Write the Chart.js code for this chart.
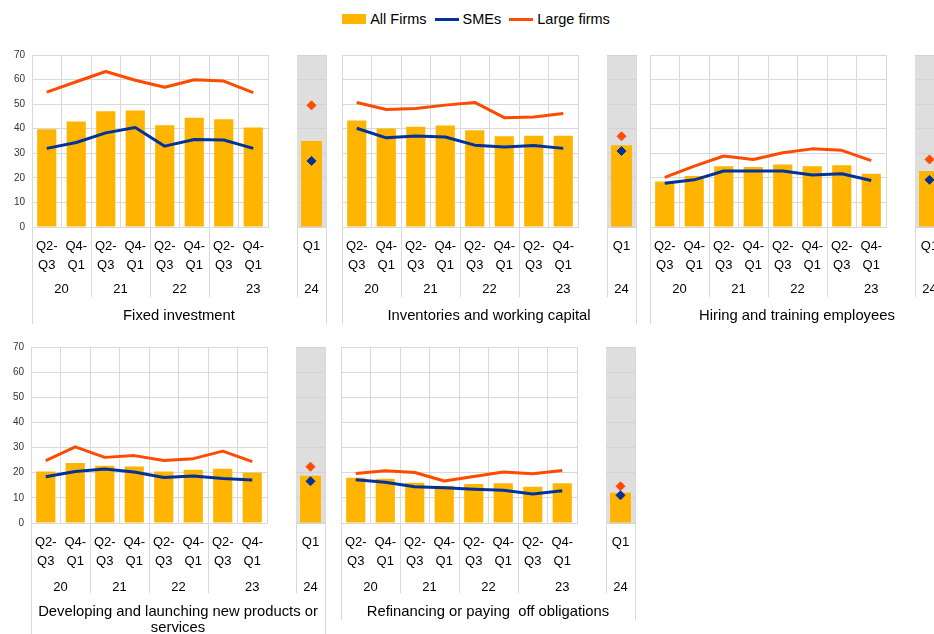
<!DOCTYPE html>
<html>
<head>
<meta charset="utf-8">
<script src="https://cdn.jsdelivr.net/npm/chart.js@4.4.1/dist/chart.umd.min.js"></script>
<style>
  body { margin: 0; width: 934px; height: 634px; overflow: hidden; position: relative; background: #fff;
         font-family: "Liberation Sans", Arial, sans-serif; }
  canvas { position: absolute; }
  .title { position: absolute; font-size: 14.8px; line-height: 16.4px; text-align: center; color: #000; white-space: pre-wrap; }
  #legend { position: absolute; top: 11px; left: 0; width: 960px; display: flex; justify-content: center;
            align-items: center; font-size: 14.5px; color: #000; }
  #legend .box { width: 24px; height: 10px; margin-right: 4px; }
  #legend .ln { width: 24px; height: 3px; margin-right: 4px; }
  #legend .lbl { margin-right: 8px; }
</style>
</head>
<body>
<div id="legend">
  <span class="box" style="background:#ffb400"></span><span class="lbl">All Firms</span>
  <span class="ln" style="background:#003299"></span><span class="lbl">SMEs</span>
  <span class="ln" style="background:#ff4b00"></span><span class="lbl">Large firms</span>
</div>
<script>
// categories
const periods = [['Q2-', 'Q3'], ['Q4-', 'Q1'], ['Q2-', 'Q3'], ['Q4-', 'Q1'],
                 ['Q2-', 'Q3'], ['Q4-', 'Q1'], ['Q2-', 'Q3'], ['Q4-', 'Q1']];
const years = ['20', '21', '22', '23'];
const yearSpans = [[0, 1], [2, 3], [4, 5], [6, 8]];   // last group also covers the gap
const latestPeriod = ['Q1'];
const latestYear = '24';
const yMin = 0, yMax = 70, yStep = 10;

const titles = ['Fixed investment', 'Inventories and working capital', 'Hiring and training employees',
                'Developing and launching new products or services', 'Refinancing or paying  off obligations'];

// values, % of firms ; latest = [all firms, SMEs, large firms]
const fixedAll   = [39.8, 42.9, 47.1, 47.4, 41.4, 44.5, 43.9, 40.5];
const fixedSme   = [32.0, 34.4, 38.3, 40.5, 32.9, 35.6, 35.4, 32.0];
const fixedLarge = [54.9, 59.1, 63.3, 59.7, 56.9, 59.9, 59.4, 54.7];
const fixedLatest = [35.0, 26.9, 49.5];

const invAll   = [43.3, 40.1, 40.8, 41.3, 39.4, 36.9, 37.1, 37.1];
const invSme   = [40.2, 36.3, 37.0, 36.6, 33.3, 32.6, 33.2, 32.0];
const invLarge = [50.7, 47.8, 48.2, 49.6, 50.7, 44.5, 44.8, 46.2];
const invLatest = [33.3, 30.9, 36.9];

const hireAll   = [18.5, 20.8, 24.7, 24.4, 25.4, 24.7, 25.1, 21.7];
const hireSme   = [17.8, 19.2, 22.8, 22.8, 22.8, 21.2, 21.7, 18.9];
const hireLarge = [20.2, 24.8, 28.9, 27.5, 30.2, 31.8, 31.2, 27.0];
const hireLatest = [22.8, 19.2, 27.5];

const prodAll   = [20.5, 23.9, 22.8, 22.5, 20.5, 21.2, 21.6, 20.0];
const prodSme   = [18.4, 20.5, 21.5, 20.3, 18.1, 18.7, 17.7, 17.1];
const prodLarge = [24.8, 30.3, 26.1, 26.8, 24.9, 25.6, 28.6, 24.4];
const prodLatest = [18.8, 16.6, 22.4];

const refiAll   = [18.0, 17.6, 16.0, 14.8, 15.5, 15.8, 14.4, 15.8];
const refiSme   = [17.2, 16.2, 14.4, 14.0, 13.4, 13.0, 11.5, 12.8];
const refiLarge = [19.7, 20.8, 20.1, 16.7, 18.5, 20.3, 19.6, 20.9];
const refiLatest = [12.1, 11.0, 14.6];

const FONT = '"Liberation Sans", Arial, sans-serif';
const GRID = '#d9d9d9';
const SHADE = '#dedede';
const BAR = '#ffb400', SME = '#003299', LARGE = '#ff4b00';

Chart.defaults.font.family = FONT;

// panel placement on the page
const boxes = [
  { left: 32,  top: 55,  h: 172, yLabels: true,  depth: 97 },
  { left: 342, top: 55,  h: 172, yLabels: false, depth: 97 },
  { left: 650, top: 55,  h: 172, yLabels: false, depth: 97 },
  { left: 31,  top: 347, h: 176, yLabels: true,  depth: 111 },
  { left: 341, top: 347, h: 176, yLabels: false, depth: 97 }
];
const series = [
  [fixedAll, fixedSme, fixedLarge, fixedLatest],
  [invAll, invSme, invLarge, invLatest],
  [hireAll, hireSme, hireLarge, hireLatest],
  [prodAll, prodSme, prodLarge, prodLatest],
  [refiAll, refiSme, refiLarge, refiLatest]
];

// extra axis furniture: labels and separator lines below the plot
const decor = {
  id: 'decor',
  afterDraw(chart, args, o) {
    const { ctx, chartArea: a, scales: { x } } = chart;
    ctx.save();
    ctx.strokeStyle = GRID;
    ctx.lineWidth = 1;
    o.lines.forEach(([v, fromTop, depth]) => {
      const px = Math.round(x.getPixelForValue(v) - 0.5) + 0.5;
      ctx.beginPath();
      ctx.moveTo(px, fromTop ? a.top : a.bottom);
      ctx.lineTo(px, a.bottom + depth);
      ctx.stroke();
    });
    ctx.fillStyle = '#000';
    ctx.font = '13px ' + FONT;
    ctx.textAlign = 'center';
    ctx.textBaseline = 'middle';
    o.labels.forEach(([text, v, off]) => ctx.fillText(text, x.getPixelForValue(v), a.bottom + off));
    ctx.restore();
  }
};

const shade = {
  id: 'shade',
  beforeDraw(chart) {
    const { ctx, chartArea: a } = chart;
    ctx.save();
    ctx.fillStyle = SHADE;
    ctx.fillRect(a.left, a.top, a.right - a.left, a.bottom - a.top);
    ctx.restore();
  }
};

function addCanvas(x, y, w, h) {
  const c = document.createElement('canvas');
  c.width = w; c.height = h;
  c.style.left = x + 'px'; c.style.top = y + 'px';
  c.style.width = w + 'px'; c.style.height = h + 'px';
  document.body.appendChild(c);
  return c;
}

const xTicks = { font: { size: 13, lineHeight: 1.45 }, color: '#000', padding: 10, maxRotation: 0, autoSkip: false };
const PAD_BOTTOM = 62, AXIS_H = 50;

function mainChart(d, box) {
  const wy = box.yLabels ? 31 : 4;
  const cv = addCanvas(box.left - wy, box.top - 8, wy + 238, 8 + box.h + AXIS_H + PAD_BOTTOM);
  const yearOffset = box.h > 173 ? 64 : 62;
  const lines = [[-0.5, true, box.depth]].concat(yearSpans.slice(1).map(s => [s[0] - 0.5, false, 70]));
  const labels = years.map((y, i) => [y, (yearSpans[i][0] + yearSpans[i][1]) / 2, yearOffset]);
  new Chart(cv, {
    type: 'bar',
    data: {
      labels: periods,
      datasets: [
        { type: 'line', label: 'SMEs', data: d[1], borderColor: SME, borderWidth: 3, pointRadius: 0,
          borderJoinStyle: 'round', order: 1 },
        { type: 'line', label: 'Large firms', data: d[2], borderColor: LARGE, borderWidth: 3, pointRadius: 0,
          borderJoinStyle: 'round', order: 1 },
        { label: 'All Firms', data: d[0], backgroundColor: BAR, barPercentage: 0.65, categoryPercentage: 1, order: 2 }
      ]
    },
    options: {
      responsive: false,
      animation: false,
      layout: { autoPadding: false, padding: { top: 8, right: 2, bottom: PAD_BOTTOM, left: 0 } },
      plugins: {
        legend: { display: false },
        tooltip: { enabled: false },
        decor: { lines, labels }
      },
      scales: {
        x: {
          grid: { color: GRID, drawTicks: false, offset: true },
          border: { color: GRID },
          ticks: xTicks,
          afterFit(s) { s.height = AXIS_H; s.paddingLeft = 0; s.paddingRight = 0; }
        },
        y: {
          min: yMin, max: yMax,
          grid: { color: GRID, drawTicks: false },
          border: { color: GRID },
          ticks: { stepSize: yStep, display: box.yLabels, font: { size: 10 }, color: '#333', padding: 7 },
          afterFit(s) { s.width = wy; s.paddingTop = 0; s.paddingBottom = 0; }
        }
      }
    },
    plugins: [decor]
  });
}

function latestChart(d, box) {
  const cv = addCanvas(box.left + 265, box.top - 8, 31, 8 + box.h + AXIS_H + PAD_BOTTOM);
  const yearOffset = box.h > 173 ? 64 : 62;
  new Chart(cv, {
    type: 'bar',
    data: {
      labels: latestPeriod,
      datasets: [
        { type: 'line', label: 'SMEs', data: [d[3][1]], showLine: false, pointStyle: 'rectRot', pointRadius: 4.5,
          pointBackgroundColor: SME, pointBorderColor: SME, order: 1 },
        { type: 'line', label: 'Large firms', data: [d[3][2]], showLine: false, pointStyle: 'rectRot', pointRadius: 4.5,
          pointBackgroundColor: LARGE, pointBorderColor: LARGE, order: 1 },
        { label: 'All Firms', data: [d[3][0]], backgroundColor: BAR, barPercentage: 0.72, categoryPercentage: 1, order: 2 }
      ]
    },
    options: {
      responsive: false,
      animation: false,
      layout: { autoPadding: false, padding: { top: 8, right: 2, bottom: PAD_BOTTOM, left: 0 } },
      plugins: {
        legend: { display: false },
        tooltip: { enabled: false },
        decor: {
          lines: [[-0.5, false, 70], [0.5, true, box.depth]],
          labels: [[latestPeriod[0], 0, 19.5], [latestYear, 0, yearOffset]]
        }
      },
      scales: {
        x: {
          grid: { display: false },
          border: { display: false },
          ticks: { display: false },
          afterFit(s) { s.height = AXIS_H; }
        },
        y: {
          min: yMin, max: yMax,
          grid: { color: '#d3d3d3', drawTicks: false },
          border: { display: false },
          ticks: { stepSize: yStep, display: false },
          afterFit(s) { s.width = 0; }
        }
      }
    },
    plugins: [shade, decor]
  });
}

boxes.forEach((box, i) => {
  mainChart(series[i], box);
  latestChart(series[i], box);
  const t = document.createElement('div');
  t.className = 'title';
  t.textContent = titles[i];
  t.style.left = box.left + 'px';
  t.style.width = '294px';
  t.style.top = (box.top + box.h + 80) + 'px';
  document.body.appendChild(t);
});
</script>
</body>
</html>
